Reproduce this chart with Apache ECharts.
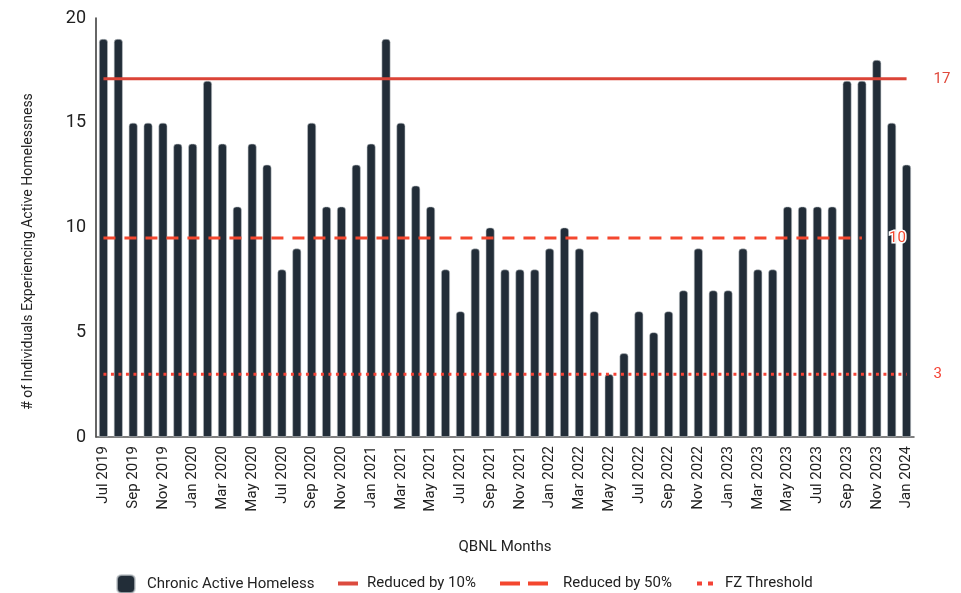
<!DOCTYPE html>
<html>
<head>
<meta charset="utf-8">
<script src="https://cdn.jsdelivr.net/npm/echarts@6/dist/echarts.min.js"></script>
<style>
html,body{margin:0;padding:0;background:#fff;}
#chart{width:961px;height:593px;}
</style>
</head>
<body>
<div id="chart"></div>
<script>
const months = [
  'Jul 2019','Aug 2019','Sep 2019','Oct 2019','Nov 2019','Dec 2019',
  'Jan 2020','Feb 2020','Mar 2020','Apr 2020','May 2020','Jun 2020','Jul 2020','Aug 2020','Sep 2020','Oct 2020','Nov 2020','Dec 2020',
  'Jan 2021','Feb 2021','Mar 2021','Apr 2021','May 2021','Jun 2021','Jul 2021','Aug 2021','Sep 2021','Oct 2021','Nov 2021','Dec 2021',
  'Jan 2022','Feb 2022','Mar 2022','Apr 2022','May 2022','Jun 2022','Jul 2022','Aug 2022','Sep 2022','Oct 2022','Nov 2022','Dec 2022',
  'Jan 2023','Feb 2023','Mar 2023','Apr 2023','May 2023','Jun 2023','Jul 2023','Aug 2023','Sep 2023','Oct 2023','Nov 2023','Dec 2023',
  'Jan 2024'
];
const chronicActive = [
  19,19,15,15,15,14,
  14,17,14,11,14,13,8,9,15,11,11,13,
  14,19,15,12,11,8,6,9,10,8,8,8,
  9,10,9,6,3,4,6,5,6,7,9,7,
  7,9,8,8,11,11,11,11,17,17,18,15,
  13
];
const reduced10Value = 17.1;
const reduced50Value = 9.5;
const fzThresholdValue = 3;
const reduced50LastMonth = 'Oct 2023';
const yTicks = [0, 5, 10, 15, 20];

const reduced10 = months.map(() => reduced10Value);
const reduced50 = months.map((m, i) => i <= months.indexOf(reduced50LastMonth) ? reduced50Value : null);
const fzThreshold = months.map(() => fzThresholdValue);

const chart = echarts.init(document.getElementById('chart'));
const FONT = 'Roboto';
const endLabelBase = {
  show: true,
  distance: 27,
  fontFamily: FONT,
  fontSize: 15,
  formatter: p => String(Math.round(p.value))
};
const legendText = (pad) => ({ fontFamily: FONT, fontSize: 15, color: '#222', padding: [0,0,0,pad] });

chart.setOption({
  animation: false,
  textStyle: { fontFamily: FONT },
  grid: { left: 96, right: 47, top: 18, bottom: 156, containLabel: false },
  legend: [
    { data: ['Chronic Active Homeless'], left: 111, top: 569, itemWidth: 18, itemHeight: 18,
      icon: 'roundRect', textStyle: legendText(7) },
    { data: ['Reduced by 10%'], left: 333, top: 571, itemWidth: 20, itemHeight: 14,
      icon: 'path://M0,0h20v4h-20z', textStyle: legendText(4) },
    { data: ['Reduced by 50%'], left: 495, top: 571, itemWidth: 48, itemHeight: 14,
      icon: 'path://M0,0h20v4h-20z M28,0h20v4h-20z', textStyle: legendText(10) },
    { data: ['FZ Threshold'], left: 692, top: 571, itemWidth: 16, itemHeight: 14,
      icon: 'path://M0,0h5v4h-5z M11,0h5v4h-5z', textStyle: legendText(7) }
  ],
  xAxis: {
    type: 'category',
    data: months,
    name: 'QBNL Months',
    nameLocation: 'middle',
    nameGap: 103,
    nameTextStyle: { fontFamily: FONT, fontSize: 15, color: '#222' },
    axisLine: { show: true, lineStyle: { color: '#555', width: 1.5 } },
    axisTick: { show: false },
    axisLabel: { interval: 1, rotate: 90, fontFamily: FONT, fontSize: 15, color: '#222', margin: 9 },
    splitLine: { show: false }
  },
  yAxis: {
    type: 'value',
    min: yTicks[0],
    max: yTicks[yTicks.length - 1],
    interval: 5,
    name: '# of Individuals Experiencing Active Homelessness',
    nameLocation: 'middle',
    nameGap: 61,
    nameTextStyle: { fontFamily: FONT, fontSize: 14, color: '#222', padding: [0, 48, 0, 0] },
    axisLine: { show: true, lineStyle: { color: '#333', width: 1.5 } },
    axisTick: { show: false },
    axisLabel: { fontFamily: FONT, fontSize: 18, color: '#222', margin: 10 },
    splitLine: { show: false }
  },
  series: [
    {
      name: 'Chronic Active Homeless',
      type: 'bar',
      data: chronicActive,
      barWidth: 9,
      itemStyle: { color: '#222d38', borderRadius: [3,3,0,0], borderColor: 'rgba(190,195,200,0.7)', borderWidth: 0.8 },
      z: 2
    },
    {
      name: 'Reduced by 10%',
      type: 'line',
      data: reduced10,
      symbol: 'none',
      lineStyle: { color: '#db4437', width: 3, type: 'solid' },
      itemStyle: { color: '#dc4b3e' },
      endLabel: Object.assign({}, endLabelBase, { color: '#e0493c' }),
      z: 5
    },
    {
      name: 'Reduced by 50%',
      type: 'line',
      data: reduced50,
      symbol: 'none',
      connectNulls: false,
      lineStyle: { color: '#f4472e', width: 3, type: [12, 9] },
      itemStyle: { color: '#f4472e' },
      endLabel: Object.assign({}, endLabelBase, { color: '#f4472e', textBorderColor: '#fff', textBorderWidth: 3 }),
      z: 6
    },
    {
      name: 'FZ Threshold',
      type: 'line',
      data: fzThreshold,
      symbol: 'none',
      lineStyle: { color: '#f44336', width: 3, type: [3, 4.5] },
      itemStyle: { color: '#f44336' },
      endLabel: Object.assign({}, endLabelBase, { color: '#f44336' }),
      z: 5
    }
  ]
});
</script>
</body>
</html>
